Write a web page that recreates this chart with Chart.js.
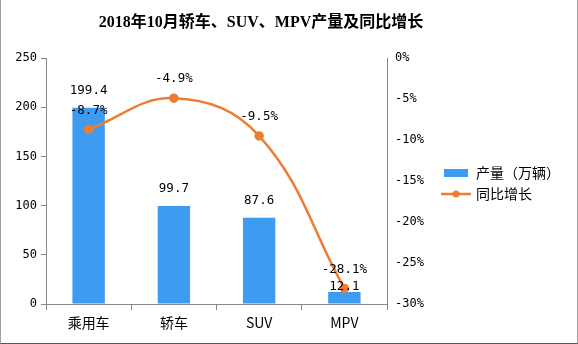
<!DOCTYPE html>
<html><head><meta charset="utf-8">
<script src="https://cdn.jsdelivr.net/npm/chart.js@4"></script>
<style>
html,body{margin:0;padding:0;background:#fff;}
#wrap{position:relative;width:578px;height:344px;overflow:hidden;}
#title{position:absolute;left:0;top:11px;width:522px;text-align:center;font:bold 16px "Liberation Serif","Noto Sans CJK SC",serif;line-height:22px;color:#000;white-space:nowrap;}
#frame{position:absolute;left:0;top:0;width:576px;height:343px;border-left:1px solid #a0a0a0;border-right:1px solid #a0a0a0;border-bottom:1px solid #555;pointer-events:none;}
canvas{position:absolute;left:0;top:0;}
</style></head>
<body>
<div id="wrap">
<canvas id="c" width="578" height="344"></canvas>
<div id="title">2018年10月轿车、SUV、MPV产量及同比增长</div>
<div id="frame"></div>
</div>
<script>
const categories = ['乘用车', '轿车', 'SUV', 'MPV'];
const production = [199.4, 99.7, 87.6, 12.1];   // 产量（万辆）
const yoyGrowth = [-8.7, -4.9, -9.5, -28.1];    // 同比增长 %
const leftTicks = [0, 50, 100, 150, 200, 250];
const rightTicks = [0, -5, -10, -15, -20, -25, -30];
const seriesNames = ['产量（万辆）', '同比增长'];

const BLUE = '#3d9bf1';
const ORANGE = '#ed7d31';
const AXIS = '#888888';

function rectIcon() {
  const c = document.createElement('canvas'); c.width = 24; c.height = 8;
  const x = c.getContext('2d'); x.fillStyle = BLUE; x.fillRect(0, 0, 24, 8); return c;
}
function lineIcon() {
  const c = document.createElement('canvas'); c.width = 30; c.height = 8;
  const x = c.getContext('2d');
  x.strokeStyle = ORANGE; x.lineWidth = 2.5; x.beginPath(); x.moveTo(0, 4); x.lineTo(30, 4); x.stroke();
  x.fillStyle = ORANGE; x.beginPath(); x.arc(15, 4, 3.5, 0, Math.PI * 2); x.fill(); return c;
}
const icons = [rectIcon(), lineIcon()];

const labelPlugin = {
  id: 'valueLabels',
  afterDatasetsDraw(chart) {
    const ctx = chart.ctx;
    ctx.save();
    ctx.font = '12.5px "DejaVu Sans Mono", monospace';
    ctx.fillStyle = '#000';
    ctx.textAlign = 'center';
    ctx.textBaseline = 'middle';
    const barMeta = chart.getDatasetMeta(0), lineMeta = chart.getDatasetMeta(1);
    lineMeta.data.forEach((pt, i) => {
      ctx.fillText(yoyGrowth[i].toFixed(1) + '%', pt.x, pt.y - 19);
    });
    barMeta.data.forEach((bar, i) => {
      let by = bar.y - 17;
      const ly = lineMeta.data[i].y - 19;
      if (Math.abs(by - ly) < 14) by = bar.y - 5;
      ctx.fillText(production[i].toFixed(1), bar.x, by);
    });
    ctx.restore();
  }
};

const chart = new Chart(document.getElementById('c'), {
  data: {
    labels: categories,
    datasets: [
      { type: 'bar', label: seriesNames[0], data: production, backgroundColor: BLUE, yAxisID: 'y',
        order: 2, categoryPercentage: 1, barPercentage: 0.38 },
      { type: 'line', label: seriesNames[1], data: yoyGrowth, borderColor: ORANGE, backgroundColor: ORANGE,
        borderWidth: 2.5, pointRadius: 3.5, pointHoverRadius: 3.5, tension: 0.4, yAxisID: 'y1', order: 1 }
    ]
  },
  options: {
    responsive: false,
    animation: false,
    devicePixelRatio: 1,
    layout: { padding: { top: 58, left: 0, right: 0, bottom: 0 } },
    plugins: {
      title: { display: false },
      tooltip: { enabled: false },
      legend: {
        position: 'right',
        fullSize: false,
        maxWidth: 200,
        title: { display: true, text: ' ', padding: 0, font: { size: 4, lineHeight: 1.25 } },
        labels: {
          usePointStyle: true,
          pointStyleWidth: 26,
          padding: 7,
          color: '#000',
          font: { family: '"Noto Sans CJK SC", sans-serif', size: 14 },
          sort: (a, b) => a.datasetIndex - b.datasetIndex,
          generateLabels(ch) {
            const items = Chart.defaults.plugins.legend.labels.generateLabels(ch);
            items.forEach(it => { it.pointStyle = icons[it.datasetIndex]; });
            return items;
          }
        }
      }
    },
    scales: {
      x: {
        grid: { offset: true, drawOnChartArea: false, tickLength: 6, color: AXIS },
        border: { color: AXIS },
        ticks: { color: '#000', padding: 4, font: { family: '"Noto Sans CJK SC", sans-serif', size: 14 } },
        afterFit: s => { s.height = 40; }
      },
      y: {
        position: 'left', min: 0, max: 250,
        afterBuildTicks: s => { s.ticks = leftTicks.map(v => ({ value: v })); },
        grid: { drawOnChartArea: false, tickLength: 5, color: AXIS },
        border: { color: AXIS },
        ticks: { color: '#000', padding: 4, font: { family: '"DejaVu Sans Mono", monospace', size: 12 } },
        afterFit: s => { s.width = 46; }
      },
      y1: {
        position: 'right', min: -30, max: 0,
        afterBuildTicks: s => { s.ticks = rightTicks.map(v => ({ value: v })); },
        grid: { display: false, drawTicks: false },
        border: { display: true, color: AXIS },
        ticks: { color: '#000', padding: 8, font: { family: '"DejaVu Sans Mono", monospace', size: 12 },
          callback: v => v + '%' },
        afterFit: s => { s.width = 49; }
      }
    }
  },
  plugins: [labelPlugin]
});

// place legend so its items start at x≈443 (legend left + label padding)
const desiredLeft = 443 - 7;
const shift = chart.legend.left - desiredLeft;
chart.options.layout.padding.right = Math.max(0, shift);
chart.update();
</script>
</body></html>
